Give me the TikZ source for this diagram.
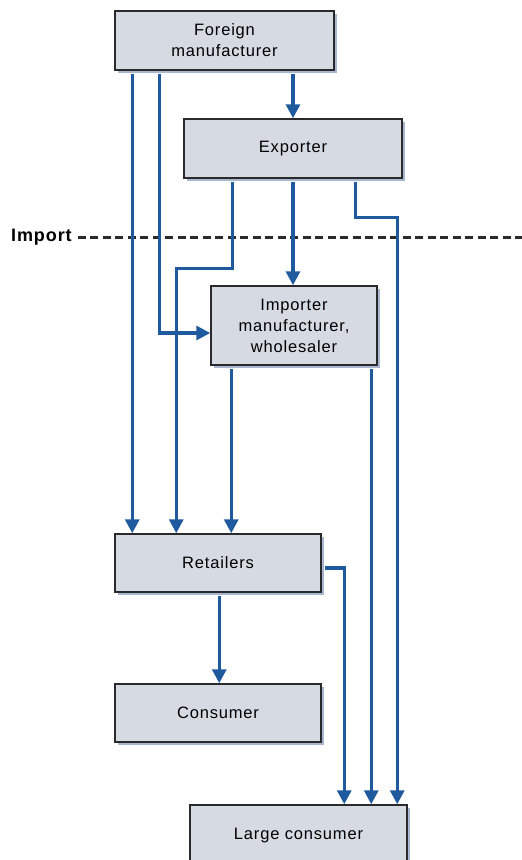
\documentclass[tikz,border=0pt]{standalone}
\usepackage{fontspec}
\setmainfont{Liberation Sans}[LetterSpace=5]
\usetikzlibrary{arrows.meta,shadows}
\definecolor{flowblue}{HTML}{1F5A9E}
\definecolor{boxfill}{HTML}{D6DAE3}
\definecolor{boxedge}{HTML}{2A2A2A}
\definecolor{shade}{HTML}{A9B6CF}
\tikzset{
  box/.style={draw=boxedge, line width=1.5pt, fill=boxfill, inner sep=0pt,
    align=center, font=\fontsize{16.5}{21}\selectfont,
    drop shadow={shadow xshift=3pt, shadow yshift=-3pt, fill=shade, opacity=1}},
  flow/.style={draw=flowblue, line width=3.3pt, shorten <=3pt,
    -{Triangle[width=14pt,length=14pt]}},
}
\begin{document}
\begin{tikzpicture}[x=1pt,y=-1pt]
  \useasboundingbox[fill=white] (0,0) rectangle (522,860);

  % boxes (centre, width, height)
  \node[box, minimum width=219pt, minimum height=59pt] (fm) at (224.5,40.5) {Foreign\\manufacturer};
  \node[box, minimum width=218pt, minimum height=59pt] (ex) at (293,148.5) {Exporter};
  \node[box, minimum width=166pt, minimum height=79pt] (im) at (294,325.5) {Importer\\manufacturer,\\wholesaler};
  \node[box, minimum width=206pt, minimum height=58pt] (rt) at (218,563) {Retailers};
  \node[box, minimum width=206pt, minimum height=58pt] (cs) at (218,713) {Consumer};
  \node[box, minimum width=217pt, minimum height=62pt] (lc) at (298.5,836) {Large consumer};

  % import boundary
  \node[anchor=west, inner sep=0pt, font=\fontsize{18}{20}\selectfont\bfseries] (imp) at (11,237) {Import};
  \coordinate (edge) at (522,237);
  \draw[boxedge, line width=3pt, dash pattern=on 8pt off 4.5pt] ([xshift=6pt]imp.east) -- (edge);

  % flows from the foreign manufacturer
  \draw[flow] ([xshift=18pt]fm.south west) -- ([xshift=18pt]rt.north west);
  \draw[flow] ([xshift=45pt]fm.south west) |- ([yshift=-7.5pt]im.west);
  \draw[flow] (fm.south -| ex.north) -- (ex.north);

  % flows from the exporter
  \draw[flow] ([xshift=49pt]ex.south west) -- ++(0,90) -| ([xshift=62pt]rt.north west);
  \draw[flow] (ex.south) -- (ex.south |- im.north);
  \draw[flow] ([xshift=172pt]ex.south west) -- ++(0,39) -| ([xshift=208pt]lc.north west);

  % flows from the importer
  \draw[flow] ([xshift=21pt]im.south west) -- ([xshift=117pt]rt.north west);
  \draw[flow] ([xshift=161pt]im.south west) -- ([xshift=182pt]lc.north west);

  % flows from the retailers
  \draw[flow] ([yshift=-5pt]rt.east) -| ([xshift=155pt]lc.north west);
  \draw[flow] ([xshift=105pt]rt.south west) -- ([xshift=105pt]cs.north west);
\end{tikzpicture}
\end{document}
